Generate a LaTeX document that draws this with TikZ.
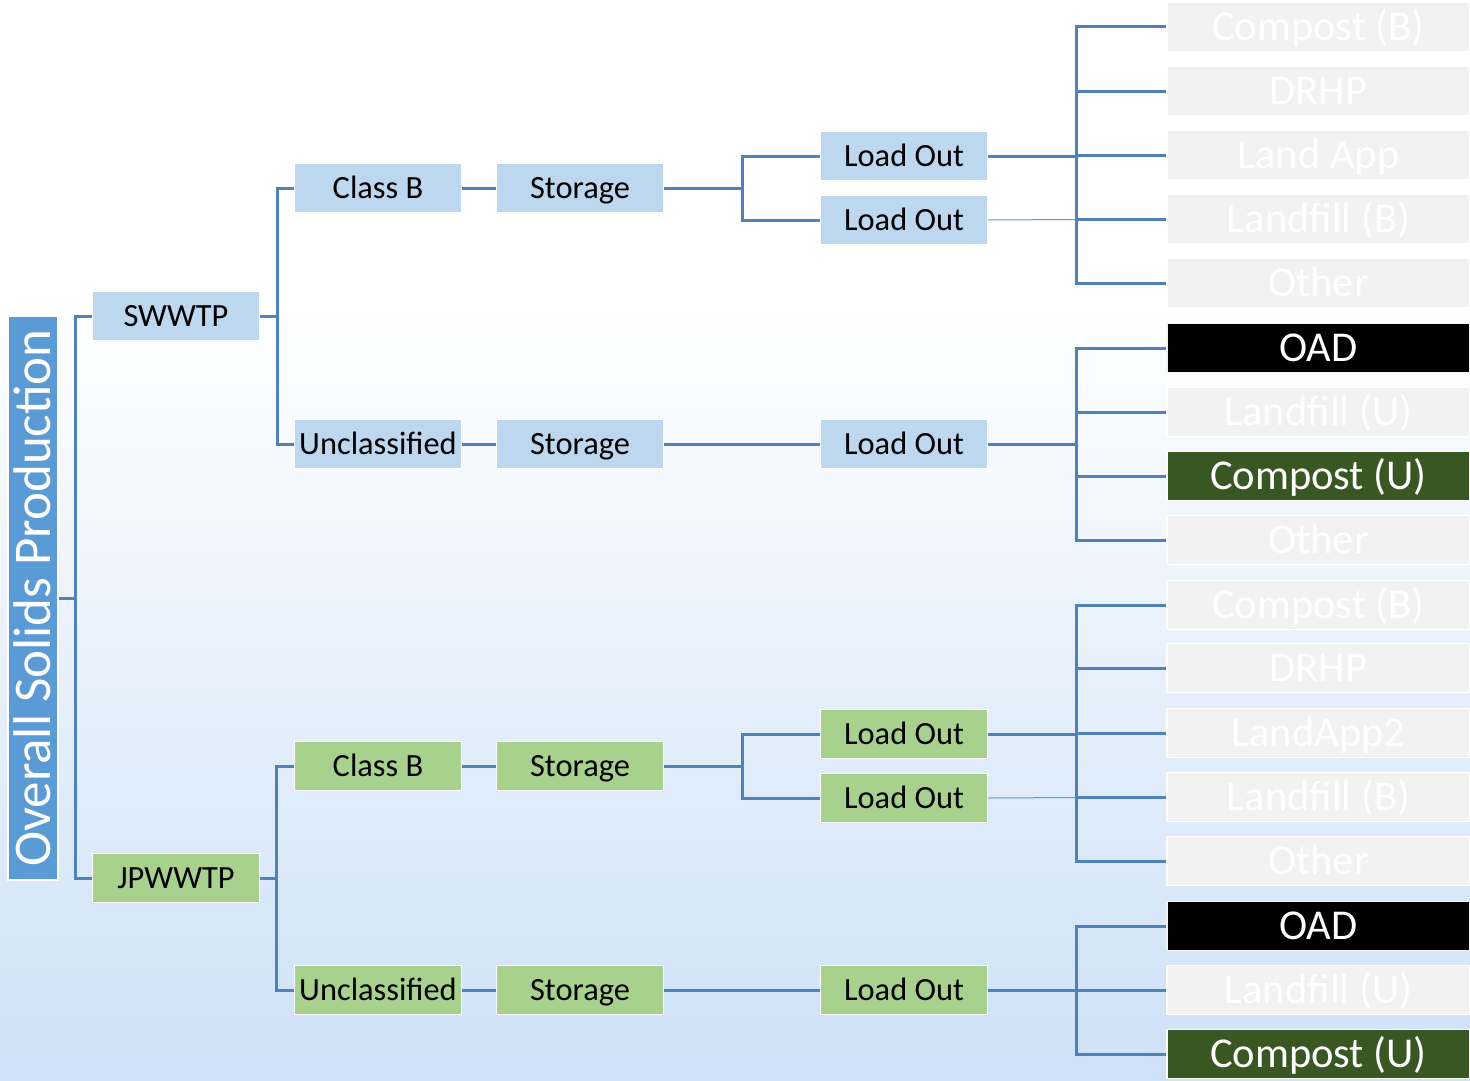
\documentclass[tikz,border=0pt]{standalone}
\usepackage{fontspec}
\setmainfont{Carlito}
\definecolor{lineblue}{RGB}{79,129,189}
\definecolor{lightblue}{RGB}{189,215,238}
\definecolor{midblue}{RGB}{91,155,213}
\definecolor{lgreen}{RGB}{169,209,142}
\definecolor{dgreen}{RGB}{56,87,35}
\definecolor{lgray}{RGB}{242,242,242}
\definecolor{bgbot}{RGB}{205,225,247}
\pgfdeclareverticalshading{bgshade}{100bp}{color(0bp)=(bgbot); color(25bp)=(bgbot); color(61bp)=(white); color(100bp)=(white)}
\begin{document}
\begin{tikzpicture}[x=1pt,y=-1pt,
  box/.style={draw=white, line width=1.2pt, minimum width=167pt, minimum height=49pt, inner sep=0pt, text height=25pt, text depth=4.5pt, font=\fontsize{32.4}{38}\selectfont},
  bbox/.style={box, fill=lightblue},
  gbox/.style={box, fill=lgreen},
  rbox/.style={draw=white, line width=1.2pt, minimum width=303pt, minimum height=49pt, inner sep=0pt, text height=32pt, text depth=4.5pt, font=\fontsize{42.5}{48}\selectfont, text=white, fill=lgray},
  oad/.style={rbox, fill=black, draw=lgray},
  cu/.style={rbox, fill=dgreen},
  conn/.style={draw=lineblue, line width=3pt},
  thinconn/.style={draw=midblue, line width=1pt}]
\useasboundingbox (0,0) rectangle (1470,1081);
\shade[shading=bgshade] (0,0) rectangle (1470,1081);

% left
\node[rotate=90, draw=white, line width=1.5pt, fill=midblue, text=white, minimum width=564pt, minimum height=50pt, inner sep=0pt, text height=39pt, text depth=5pt, font=\fontsize{53}{60}\selectfont] (ovr) at (33,598) {Overall Solids Production};

\node[bbox] (sw) at (176,316) {SWWTP};
\node[gbox] (jp) at (176,878) {JPWWTP};

% SWWTP branch
\node[bbox] (cb1) at (378,188) {Class B};
\node[bbox] (st1) at (580,188) {Storage};
\node[bbox] (lo1) at (904,156) {Load Out};
\node[bbox] (lo2) at (904,220) {Load Out};
\node[bbox] (uc1) at (378,444) {Unclassified};
\node[bbox] (st2) at (580,444) {Storage};
\node[bbox] (lo3) at (904,444) {Load Out};

% JPWWTP branch
\node[gbox] (cb2) at (378,766) {Class B};
\node[gbox] (st3) at (580,766) {Storage};
\node[gbox] (lo4) at (904,734) {Load Out};
\node[gbox] (lo5) at (904,798) {Load Out};
\node[gbox] (uc2) at (378,990) {Unclassified};
\node[gbox] (st4) at (580,990) {Storage};
\node[gbox] (lo6) at (904,990) {Load Out};

% right column
\node[rbox] (r1) at (1318.5,27) {Compost (B)};
\node[rbox] (r2) at (1318.5,91) {DRHP};
\node[rbox] (r3) at (1318.5,155) {Land App};
\node[rbox] (r4) at (1318.5,219) {Landfill (B)};
\node[rbox] (r5) at (1318.5,283) {Other};
\node[oad]  (r6) at (1318.5,348) {OAD};
\node[rbox] (r7) at (1318.5,412) {Landfill (U)};
\node[cu]   (r8) at (1318.5,476) {Compost (U)};
\node[rbox] (r9) at (1318.5,540) {Other};
\node[rbox] (r10) at (1318.5,605) {Compost (B)};
\node[rbox] (r11) at (1318.5,668) {DRHP};
\node[rbox] (r12) at (1318.5,733) {LandApp2};
\node[rbox] (r13) at (1318.5,797) {Landfill (B)};
\node[rbox] (r14) at (1318.5,861) {Other};
\node[oad]  (r15) at (1318.5,926) {OAD};
\node[rbox] (r16) at (1318.5,990) {Landfill (U)};
\node[cu]   (r17) at (1318.5,1054) {Compost (U)};

% connectors
\draw[conn] (ovr.south) -- ++(17,0) |- (sw.west);
\draw[conn] (ovr.south) -- ++(17,0) |- (jp.west);

\draw[conn] (sw.east) -- ++(17,0) |- (cb1.west);
\draw[conn] (sw.east) -- ++(17,0) |- (uc1.west);
\draw[conn] (cb1) -- (st1);
\draw[conn] (st1.east) -- ++(78,0) |- (lo1.west);
\draw[conn] (st1.east) -- ++(78,0) |- (lo2.west);
\draw[conn] (uc1) -- (st2);
\draw[conn] (st2) -- (lo3);

\draw[conn] (jp.east) -- ++(16,0) |- (cb2.west);
\draw[conn] (jp.east) -- ++(16,0) |- (uc2.west);
\draw[conn] (cb2) -- (st3);
\draw[conn] (st3.east) -- ++(78,0) |- (lo4.west);
\draw[conn] (st3.east) -- ++(78,0) |- (lo5.west);
\draw[conn] (uc2) -- (st4);
\draw[conn] (st4) -- (lo6);

\draw[thinconn] (lo2.east) -- (r4.west);
\draw[thinconn] (lo5.east) -- (r13.west);
\foreach \r in {r1,r2,r3,r4,r5} \draw[conn] (lo1.east) -- ++(88,0) |- (\r.west);
\foreach \r in {r6,r7,r8,r9} \draw[conn] (lo3.east) -- ++(88,0) |- (\r.west);
\foreach \r in {r10,r11,r12,r13,r14} \draw[conn] (lo4.east) -- ++(88,0) |- (\r.west);
\foreach \r in {r15,r16,r17} \draw[conn] (lo6.east) -- ++(88,0) |- (\r.west);
\end{tikzpicture}
\end{document}
